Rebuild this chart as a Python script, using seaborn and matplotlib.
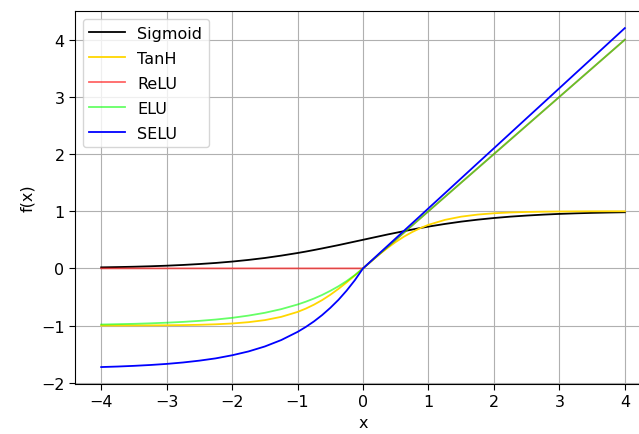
import matplotlib
matplotlib.use("Agg")
import matplotlib.pyplot as plt
import seaborn as sns
import pandas as pd

# Sample points of the activation curves (denser around the origin)
x = [-4.0, -3.75, -3.5, -3.25, -3.0, -2.75, -2.5, -2.25, -2.0, -1.75, -1.5, -1.25,
     -1.0, -0.875, -0.75, -0.625, -0.5, -0.375, -0.25, -0.125, 0.0,
     0.125, 0.25, 0.375, 0.5, 0.625, 0.75, 0.875, 1.0, 1.25, 1.5, 1.75,
     2.0, 2.25, 2.5, 2.75, 3.0, 3.25, 3.5, 3.75, 4.0]

sigmoid = [0.018, 0.023, 0.029, 0.037, 0.047, 0.060, 0.076, 0.095, 0.119, 0.148, 0.182, 0.223,
           0.269, 0.294, 0.321, 0.349, 0.378, 0.407, 0.438, 0.469, 0.500,
           0.531, 0.562, 0.593, 0.622, 0.651, 0.679, 0.706, 0.731, 0.777, 0.818, 0.852,
           0.881, 0.905, 0.924, 0.940, 0.953, 0.963, 0.971, 0.977, 0.982]

tanh = [-0.999, -0.999, -0.998, -0.997, -0.995, -0.992, -0.987, -0.978, -0.964, -0.941, -0.905, -0.848,
        -0.762, -0.704, -0.635, -0.555, -0.462, -0.358, -0.245, -0.124, 0.000,
        0.124, 0.245, 0.358, 0.462, 0.555, 0.635, 0.704, 0.762, 0.848, 0.905, 0.941,
        0.964, 0.978, 0.987, 0.992, 0.995, 0.997, 0.998, 0.999, 0.999]

relu = [0.0, 0.0, 0.0, 0.0, 0.0, 0.0, 0.0, 0.0, 0.0, 0.0, 0.0, 0.0,
        0.0, 0.0, 0.0, 0.0, 0.0, 0.0, 0.0, 0.0, 0.0,
        0.125, 0.25, 0.375, 0.5, 0.625, 0.75, 0.875, 1.0, 1.25, 1.5, 1.75,
        2.0, 2.25, 2.5, 2.75, 3.0, 3.25, 3.5, 3.75, 4.0]

elu = [-0.982, -0.976, -0.970, -0.961, -0.950, -0.936, -0.918, -0.895, -0.865, -0.826, -0.777, -0.713,
       -0.632, -0.583, -0.528, -0.465, -0.393, -0.313, -0.221, -0.118, 0.0,
       0.125, 0.25, 0.375, 0.5, 0.625, 0.75, 0.875, 1.0, 1.25, 1.5, 1.75,
       2.0, 2.25, 2.5, 2.75, 3.0, 3.25, 3.5, 3.75, 4.0]

selu = [-1.726, -1.717, -1.705, -1.690, -1.671, -1.646, -1.614, -1.574, -1.520, -1.453, -1.366, -1.254,
        -1.111, -1.025, -0.928, -0.817, -0.691, -0.550, -0.388, -0.207, 0.0,
        0.131, 0.263, 0.394, 0.525, 0.657, 0.788, 0.919, 1.051, 1.313, 1.576, 1.839,
        2.101, 2.364, 2.627, 2.889, 3.152, 3.415, 3.677, 3.940, 4.203]

names = ["Sigmoid", "TanH", "ReLU", "ELU", "SELU"]
series = [sigmoid, tanh, relu, elu, selu]
colors = ["black", "gold", "red", "lime", "blue"]
alphas = [1.0, 1.0, 0.6, 0.6, 1.0]

df = pd.DataFrame({"x": x * len(names),
                   "y": sum(series, []),
                   "name": sum([[n] * len(x) for n in names], [])})

fig = plt.figure(figsize=(6.39, 4.35), dpi=100)
ax = fig.add_axes([0.1174, 0.115, 0.9014, 0.857])

for n, c, a in zip(names, colors, alphas):
    sns.lineplot(data=df[df["name"] == n], x="x", y="y", color=c, alpha=a,
                 linewidth=1.3, label=n, ax=ax)

ax.set_xlim(-4.4, 4.4)
ax.set_ylim(-2.022, 4.499)
ax.set_xticks([-4, -3, -2, -1, 0, 1, 2, 3, 4])
ax.set_yticks([-2, -1, 0, 1, 2, 3, 4])
ax.tick_params(labelsize=11.5, length=4)
ax.grid(True, color="#b0b0b0", linewidth=0.8)
ax.set_axisbelow(True)
ax.set_xlabel("x", fontsize=11.5)
ax.set_ylabel("f(x)", fontsize=11.5)
ax.legend(loc="upper left", fontsize=11.5, handlelength=2.2, labelspacing=0.63)

fig.savefig("out.png", dpi=100)
